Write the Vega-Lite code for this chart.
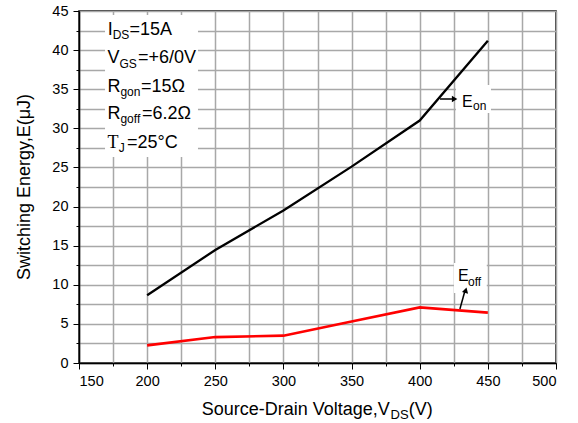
{
  "$schema": "https://vega.github.io/schema/vega-lite/v6.json",
  "width": 477,
  "height": 352,
  "autosize": {"type": "none"},
  "padding": {"left": 79, "top": 11, "right": 22, "bottom": 60},
  "background": "white",
  "data": {"values": [{}]},
  "resolve": {"axis": {"x": "independent", "y": "independent"}},
  "config": {
    "font": "Liberation Sans",
    "view": {"stroke": "black", "strokeWidth": 1.5},
    "axis": {
      "labelFont": "Liberation Sans",
      "labelFontSize": 14.5,
      "labelColor": "black",
      "domainColor": "black",
      "domainWidth": 1.5,
      "tickColor": "black",
      "tickWidth": 1,
      "gridColor": "#a8a8a8",
      "gridWidth": 1.5,
      "gridOpacity": 1
    },
    "text": {"font": "Liberation Sans", "color": "black", "align": "left", "baseline": "alphabetic"}
  },
  "datasets": {
    "energy": [
      {"V": 200, "E": 8.66, "series": "Eon"},
      {"V": 250, "E": 14.45, "series": "Eon"},
      {"V": 300, "E": 19.5, "series": "Eon"},
      {"V": 350, "E": 25.1, "series": "Eon"},
      {"V": 400, "E": 31.0, "series": "Eon"},
      {"V": 450, "E": 41.2, "series": "Eon"},
      {"V": 200, "E": 2.26, "series": "Eoff"},
      {"V": 250, "E": 3.32, "series": "Eoff"},
      {"V": 300, "E": 3.49, "series": "Eoff"},
      {"V": 350, "E": 5.3, "series": "Eoff"},
      {"V": 400, "E": 7.1, "series": "Eoff"},
      {"V": 450, "E": 6.43, "series": "Eoff"}
    ]
  },
  "layer": [
    {
      "data": {"name": "energy"},
      "mark": {"type": "line", "strokeCap": "butt", "strokeJoin": "miter"},
      "encoding": {
        "x": {
          "field": "V",
          "type": "quantitative",
          "scale": {"domain": [150, 500], "nice": false, "zero": false},
          "axis": {
            "title": null,
            "values": [150, 175, 200, 225, 250, 275, 300, 325, 350, 375, 400, 425, 450, 475, 500],
            "labelExpr": "datum.value % 50 === 0 ? '' + datum.value : ''",
            "tickSize": {"condition": {"test": "datum.value % 50 === 0", "value": 6}, "value": 3},
            "labelPadding": 5
          }
        },
        "y": {
          "field": "E",
          "type": "quantitative",
          "scale": {"domain": [0, 45], "nice": false, "zero": false},
          "axis": {
            "title": null,
            "values": [0, 2.5, 5, 7.5, 10, 12.5, 15, 17.5, 20, 22.5, 25, 27.5, 30, 32.5, 35, 37.5, 40, 42.5, 45],
            "labelExpr": "datum.value % 5 === 0 ? '' + datum.value : ''",
            "tickSize": {"condition": {"test": "datum.value % 5 === 0", "value": 6}, "value": 3},
            "labelPadding": 5
          }
        },
        "color": {
          "field": "series",
          "type": "nominal",
          "scale": {"domain": ["Eon", "Eoff"], "range": ["black", "#ff0000"]},
          "legend": null
        },
        "strokeWidth": {
          "field": "series",
          "type": "nominal",
          "scale": {"domain": ["Eon", "Eoff"], "range": [2.3, 2.7]},
          "legend": null
        }
      }
    },
    {
      "mark": {"type": "rect", "fill": "white"},
      "encoding": {
        "x": {"datum": 169.1, "type": "quantitative", "axis": null},
        "x2": {"datum": 237.3},
        "y": {"datum": 44.49, "type": "quantitative", "axis": null},
        "y2": {"datum": 26.34}
      }
    },
    {
      "mark": {"type": "rect", "fill": "white"},
      "encoding": {
        "x": {"datum": 426.6, "type": "quantitative", "axis": null},
        "x2": {"datum": 452.3},
        "y": {"datum": 35.54, "type": "quantitative", "axis": null},
        "y2": {"datum": 31.96}
      }
    },
    {
      "mark": {"type": "rect", "fill": "white"},
      "encoding": {
        "x": {"datum": 425.1, "type": "quantitative", "axis": null},
        "x2": {"datum": 449.2},
        "y": {"datum": 12.78, "type": "quantitative", "axis": null},
        "y2": {"datum": 8.95}
      }
    },
    {"mark": {"type": "text", "text": "I", "fontSize": 18}, "encoding": {"x": {"datum": 171.05, "type": "quantitative", "axis": null}, "y": {"datum": 41.93, "type": "quantitative", "axis": null}}},
    {"mark": {"type": "text", "text": "DS", "fontSize": 12}, "encoding": {"x": {"datum": 174.7, "type": "quantitative", "axis": null}, "y": {"datum": 41.36, "type": "quantitative", "axis": null}}},
    {"mark": {"type": "text", "text": "=15A", "fontSize": 18}, "encoding": {"x": {"datum": 187.0, "type": "quantitative", "axis": null}, "y": {"datum": 41.93, "type": "quantitative", "axis": null}}},
    {"mark": {"type": "text", "text": "V", "fontSize": 18}, "encoding": {"x": {"datum": 170.9, "type": "quantitative", "axis": null}, "y": {"datum": 38.31, "type": "quantitative", "axis": null}}},
    {"mark": {"type": "text", "text": "GS", "fontSize": 12}, "encoding": {"x": {"datum": 179.7, "type": "quantitative", "axis": null}, "y": {"datum": 37.74, "type": "quantitative", "axis": null}}},
    {"mark": {"type": "text", "text": "=+6/0V", "fontSize": 18}, "encoding": {"x": {"datum": 193.3, "type": "quantitative", "axis": null}, "y": {"datum": 38.31, "type": "quantitative", "axis": null}}},
    {"mark": {"type": "text", "text": "R", "fontSize": 18}, "encoding": {"x": {"datum": 170.9, "type": "quantitative", "axis": null}, "y": {"datum": 34.68, "type": "quantitative", "axis": null}}},
    {"mark": {"type": "text", "text": "gon", "fontSize": 12}, "encoding": {"x": {"datum": 180.4, "type": "quantitative", "axis": null}, "y": {"datum": 34.11, "type": "quantitative", "axis": null}}},
    {"mark": {"type": "text", "text": "=15Ω", "fontSize": 18}, "encoding": {"x": {"datum": 195.5, "type": "quantitative", "axis": null}, "y": {"datum": 34.68, "type": "quantitative", "axis": null}}},
    {"mark": {"type": "text", "text": "R", "fontSize": 18}, "encoding": {"x": {"datum": 170.9, "type": "quantitative", "axis": null}, "y": {"datum": 31.19, "type": "quantitative", "axis": null}}},
    {"mark": {"type": "text", "text": "goff", "fontSize": 12}, "encoding": {"x": {"datum": 180.4, "type": "quantitative", "axis": null}, "y": {"datum": 30.62, "type": "quantitative", "axis": null}}},
    {"mark": {"type": "text", "text": "=6.2Ω", "fontSize": 18}, "encoding": {"x": {"datum": 196.2, "type": "quantitative", "axis": null}, "y": {"datum": 31.19, "type": "quantitative", "axis": null}}},
    {"mark": {"type": "text", "text": "T", "fontSize": 18, "font": "Liberation Serif"}, "encoding": {"x": {"datum": 170.9, "type": "quantitative", "axis": null}, "y": {"datum": 27.52, "type": "quantitative", "axis": null}}},
    {"mark": {"type": "text", "text": "J", "fontSize": 12}, "encoding": {"x": {"datum": 179.2, "type": "quantitative", "axis": null}, "y": {"datum": 26.95, "type": "quantitative", "axis": null}}},
    {"mark": {"type": "text", "text": "=25°C", "fontSize": 18}, "encoding": {"x": {"datum": 185.2, "type": "quantitative", "axis": null}, "y": {"datum": 27.52, "type": "quantitative", "axis": null}}},
    {"mark": {"type": "text", "text": "E", "fontSize": 16}, "encoding": {"x": {"datum": 431.0, "type": "quantitative", "axis": null}, "y": {"datum": 32.77, "type": "quantitative", "axis": null}}},
    {"mark": {"type": "text", "text": "on", "fontSize": 12}, "encoding": {"x": {"datum": 439.1, "type": "quantitative", "axis": null}, "y": {"datum": 32.35, "type": "quantitative", "axis": null}}},
    {"mark": {"type": "text", "text": "E", "fontSize": 16}, "encoding": {"x": {"datum": 428.1, "type": "quantitative", "axis": null}, "y": {"datum": 10.52, "type": "quantitative", "axis": null}}},
    {"mark": {"type": "text", "text": "off", "fontSize": 12}, "encoding": {"x": {"datum": 435.4, "type": "quantitative", "axis": null}, "y": {"datum": 9.88, "type": "quantitative", "axis": null}}},
    {
      "mark": {"type": "rule", "color": "black", "strokeWidth": 1.5},
      "encoding": {
        "x": {"datum": 414.9, "type": "quantitative", "axis": null},
        "x2": {"datum": 423.7},
        "y": {"datum": 33.75, "type": "quantitative", "axis": null},
        "y2": {"datum": 33.75}
      }
    },
    {
      "mark": {"type": "point", "shape": "triangle-right", "filled": true, "color": "black", "size": 40, "opacity": 1},
      "encoding": {"x": {"datum": 425.6, "type": "quantitative", "axis": null}, "y": {"datum": 33.75, "type": "quantitative", "axis": null}}
    },
    {
      "mark": {"type": "rule", "color": "black", "strokeWidth": 1.5},
      "encoding": {
        "x": {"datum": 429.5, "type": "quantitative", "axis": null},
        "x2": {"datum": 433.0},
        "y": {"datum": 6.9, "type": "quantitative", "axis": null},
        "y2": {"datum": 9.1}
      }
    },
    {
      "mark": {"type": "point", "shape": "triangle-up", "angle": 16, "filled": true, "color": "black", "size": 40, "opacity": 1},
      "encoding": {"x": {"datum": 433.8, "type": "quantitative", "axis": null}, "y": {"datum": 9.3, "type": "quantitative", "axis": null}}
    },
    {"mark": {"type": "text", "text": "Source-Drain Voltage,V", "fontSize": 18}, "encoding": {"x": {"datum": 240.0, "type": "quantitative", "axis": null}, "y": {"datum": -6.65, "type": "quantitative", "axis": null}}},
    {"mark": {"type": "text", "text": "DS", "fontSize": 13}, "encoding": {"x": {"datum": 378.6, "type": "quantitative", "axis": null}, "y": {"datum": -7.16, "type": "quantitative", "axis": null}}},
    {"mark": {"type": "text", "text": "(V)", "fontSize": 18}, "encoding": {"x": {"datum": 392.0, "type": "quantitative", "axis": null}, "y": {"datum": -6.65, "type": "quantitative", "axis": null}}},
    {"mark": {"type": "text", "text": "Switching Energy,E(μJ)", "fontSize": 18, "angle": 270, "align": "center"}, "encoding": {"x": {"datum": 114.0, "type": "quantitative", "axis": null}, "y": {"datum": 22.5, "type": "quantitative", "axis": null}}}
  ]
}
